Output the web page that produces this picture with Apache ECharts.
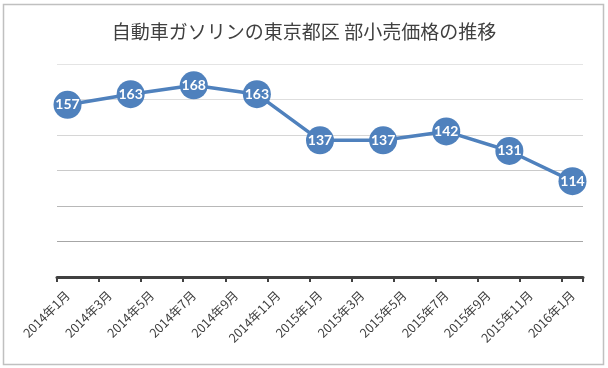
<!DOCTYPE html>
<html>
<head>
<meta charset="utf-8">
<script src="https://cdn.jsdelivr.net/npm/echarts@6/dist/echarts.min.js"></script>
<style>html,body{margin:0;padding:0;background:#fff}#c{width:608px;height:368px}</style>
</head>
<body>
<div id="c"></div>
<script>
var titleText = '自動車ガソリンの東京都区 部小売価格の推移';
var months = ['2014年1月','2014年2月','2014年3月','2014年4月','2014年5月','2014年6月','2014年7月','2014年8月','2014年9月','2014年10月','2014年11月','2014年12月',
  '2015年1月','2015年2月','2015年3月','2015年4月','2015年5月','2015年6月','2015年7月','2015年8月','2015年9月','2015年10月','2015年11月','2015年12月','2016年1月'];
var pointMonths = ['2014年1月','2014年4月','2014年7月','2014年10月','2015年1月','2015年4月','2015年7月','2015年10月','2016年1月'];
var prices = [157, 163, 168, 163, 137, 137, 142, 131, 114];
var yMin = 60, yMax = 180, yStep = 20;

var seriesData = pointMonths.map(function (m, i) { return [m, prices[i]]; });

var chart = echarts.init(document.getElementById('c'), null, {renderer: 'canvas'});
chart.setOption({
  animation: false,
  backgroundColor: '#ffffff',
  title: {
    text: titleText,
    left: 'center',
    top: 17,
    textStyle: {fontFamily: 'Noto Sans CJK JP', fontSize: 19, fontWeight: 'normal', color: '#404040'}
  },
  graphic: [{
    type: 'rect',
    shape: {x: 3.5, y: 4.5, width: 600, height: 360},
    style: {fill: 'none', stroke: '#c0c0c0', lineWidth: 1.5},
    silent: true
  }],
  grid: {left: 57, right: 25, top: 64, bottom: 91},
  xAxis: {
    type: 'category',
    data: months,
    boundaryGap: true,
    axisLine: {lineStyle: {color: '#404040', width: 3}},
    axisTick: {show: true, interval: 1, length: 5, lineStyle: {color: '#404040', width: 2}},
    axisLabel: {interval: 1, rotate: 45, margin: 16, fontSize: 12.5, color: '#404040', fontFamily: 'Noto Sans CJK JP'},
    splitLine: {show: false}
  },
  yAxis: {
    type: 'value',
    min: yMin, max: yMax, interval: yStep,
    axisLine: {show: false},
    axisTick: {show: false},
    axisLabel: {show: false},
    splitLine: {show: true, lineStyle: {width: 1, color: ['#999999', '#a6a6a6', '#b8b8b8', '#cacaca', '#d6d6d6', '#dedede', '#e4e4e4']}}
  },
  series: [{
    type: 'line',
    data: seriesData,
    connectNulls: true,
    showAllSymbol: true,
    symbol: 'circle',
    symbolSize: 28,
    lineStyle: {color: '#4f81bd', width: 3.5},
    itemStyle: {color: '#4f81bd'},
    label: {
      show: true,
      position: 'inside',
      color: '#ffffff',
      fontWeight: 'bold',
      fontSize: 14,
      fontFamily: 'Lato'
    },
    labelLayout: {hideOverlap: false},
    z: 3
  }]
});
</script>
</body>
</html>
